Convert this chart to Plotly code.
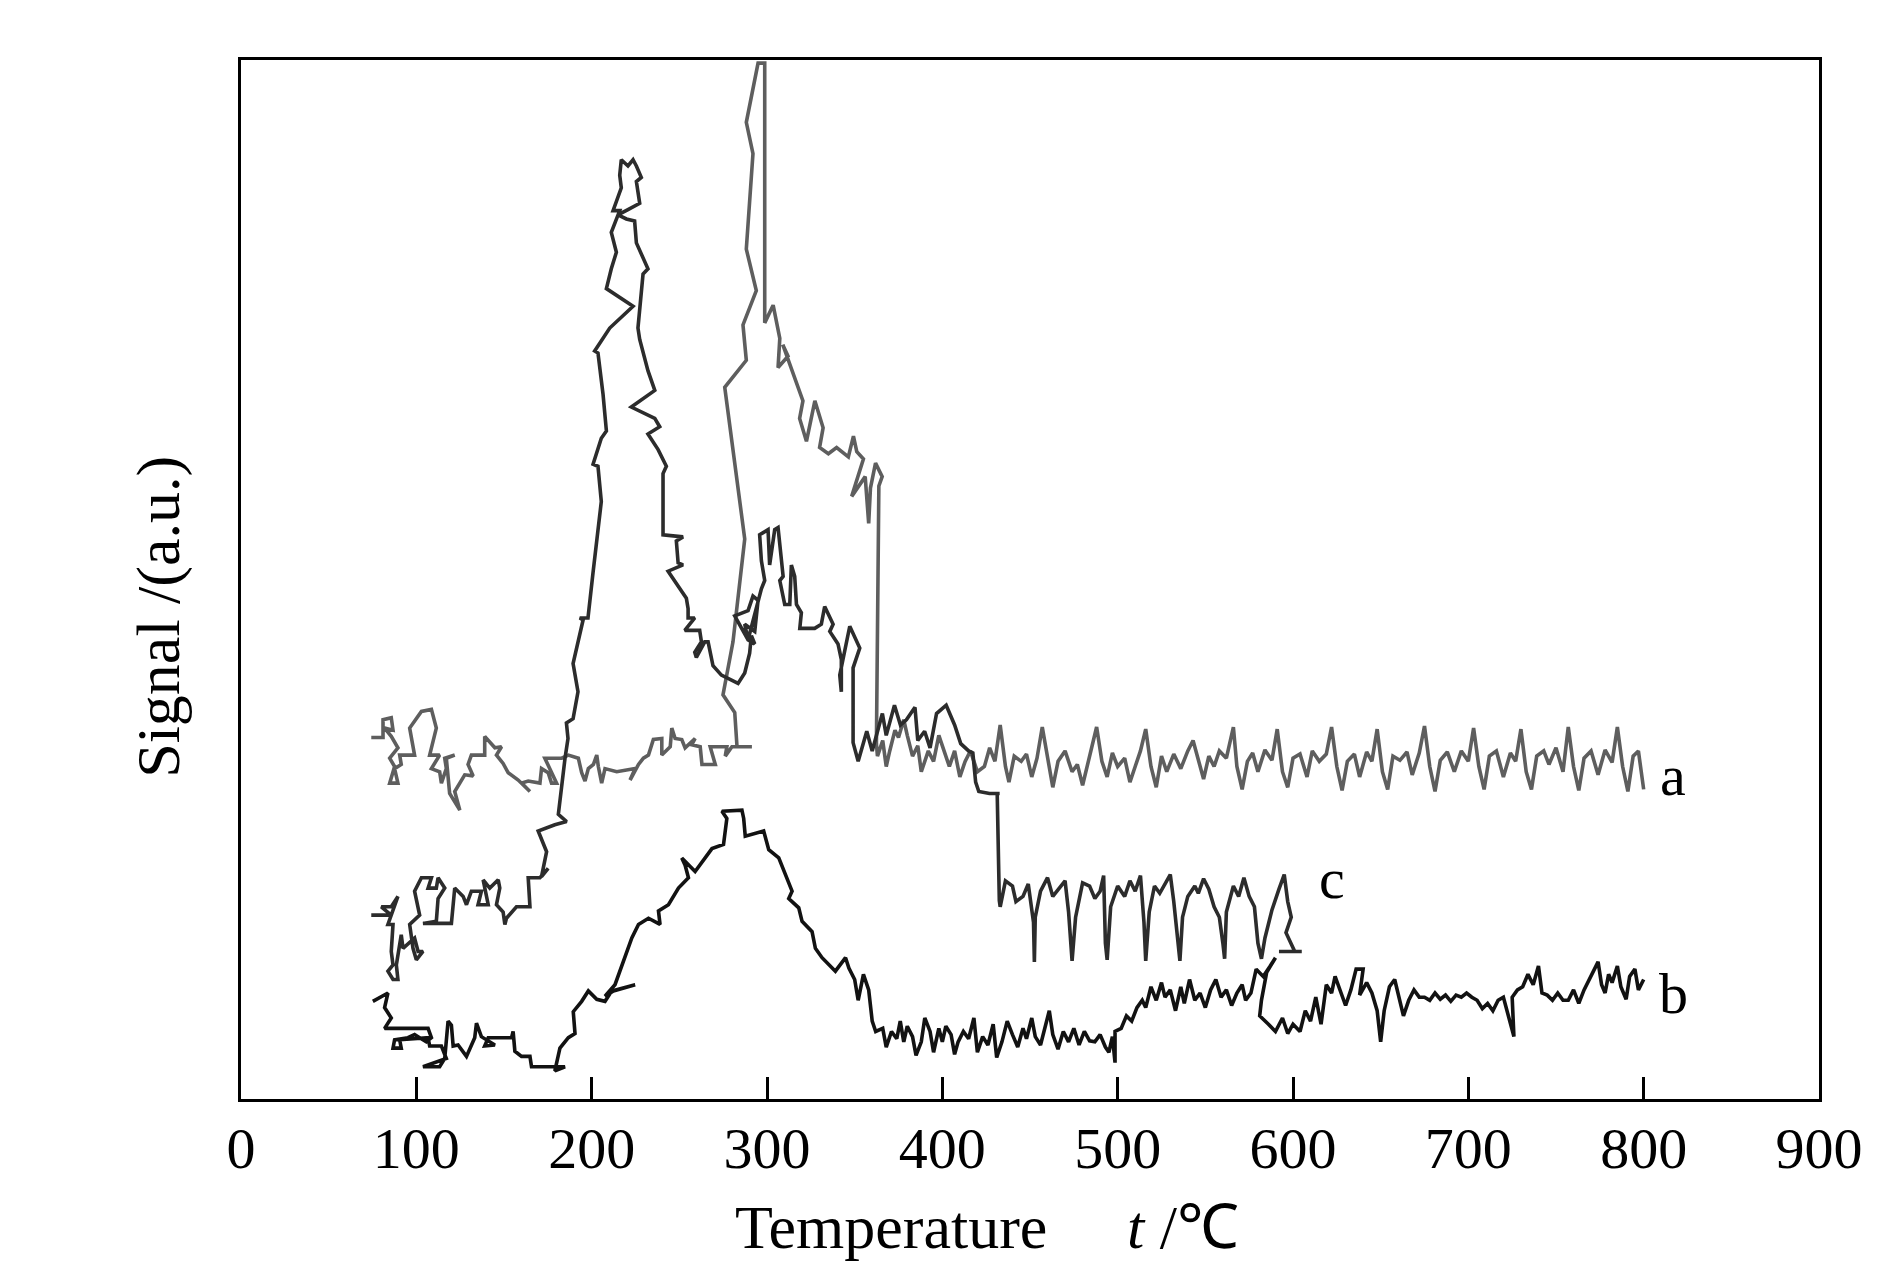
import plotly.graph_objects as go

# ---------------- data (temperature in degC, signal in arbitrary units) -------------
a_temp = [74.3, 81, 81, 85.7, 86.7, 81.9, 85.7, 89.5, 84.8, 87.6, 84.8, 89.5, 87.6, 91.4, 90.5, 99, 96.2, 102.9,
          108.6, 111.4, 107.6, 113.3, 108.6, 113.3, 114.3, 117.1, 116.2, 121.9, 117.1, 119, 124.8, 121.9, 127.6,
          132.4, 129.5, 131.4, 139, 139, 144.8, 148.6, 145.7, 149.5, 152.4, 158.1, 164.8, 160, 163.8, 170.5,
          171.4, 175.2, 177.1, 180, 173.3, 182.9, 186.7, 192.4, 194.3, 196.2, 198.1, 201, 202.9, 203.8, 205.7,
          207.6, 214.3, 224.8, 221.9, 226.7, 229.5, 232.4, 235.2, 240, 240, 244.8, 245.7, 247.6, 251.4, 253.3,
          259, 257.1, 261.9, 262.9, 270.5, 267.6, 277.1, 276.2, 280, 291.4, 282.9, 281.6, 274.9, 280.6, 287.3,
          275.9, 288.2, 286.3, 293.9, 288.2, 292, 288.2, 294.9, 298.7, 298.7, 303.5, 307.3, 306.3, 312, 309,
          317.7, 320.5, 318.6, 322.5, 327.3, 332, 330, 335, 339.7, 346.4, 349.3, 351.2, 355, 348.3, 356, 358,
          359, 361.9, 365.7, 363.8, 362.4,
          363, 366, 368, 370, 373, 375, 378, 380, 383, 386, 388, 392, 395, 398, 400, 404, 407, 410, 413, 416,
          420, 424, 427, 430, 433, 436, 438, 441, 445, 448, 451, 454, 457, 460, 463, 466, 470, 474, 477, 480,
          484, 488, 491, 494, 497, 500, 504, 507, 510, 513, 516, 519, 522, 525, 528, 532, 536, 540, 543, 546,
          549, 552, 555, 558, 562, 566, 568, 571, 574, 577, 580, 584, 588, 591, 594, 597, 600, 604, 608, 611,
          615, 619, 622, 625, 628, 631, 635, 638, 642, 645, 648, 651, 654, 657, 661, 665, 668, 672, 675, 678,
          681, 684, 688, 692, 696, 700, 703, 706, 709, 712, 716, 720, 724, 727, 730, 733, 736, 739, 743, 746,
          750, 754, 757, 760, 763, 766, 770, 774, 778, 782, 785, 788, 791, 794, 797, 800]
a_signal = [34.8, 34.8, 36.5, 36.7, 35.5, 35.7, 34.9, 33.8, 32.8, 32, 30.4, 30.4, 31.8, 32.2, 33.1, 33.1, 35.7,
            37.3, 37.5, 35.7, 33.1, 33.1, 31.8, 31.5, 30.4, 31.8, 32.8, 33.1, 32.8, 29.4, 27.8, 29.6, 31.2, 31.1,
            32.2, 33.1, 33.1, 34.9, 33.8, 33.9, 33.1, 32.3, 31.4, 30.7, 29.6, 30.4, 30.6, 30.4, 31.8, 31.4, 30.4,
            30.4, 32.8, 32.8, 33.1, 32.8, 31.4, 30.6, 31.8, 32.2, 33.1, 32, 30.4, 31.8, 31.5, 31.8, 30.7, 32.2,
            32.8, 33.1, 34.6, 34.7, 33.1, 33.9, 35.7, 34.7, 34.6, 33.8, 34.7, 34.1, 33.9, 32.2, 32.2, 33.9, 33.9,
            33, 33.9, 33.9, 33.9, 37.2, 38.9, 44, 53.9, 68.5, 71.1, 74.5, 77.8, 81.8, 91, 94, 99.7, 99.7, 74.7,
            76.4, 73.2, 70.4, 71.5, 72.6, 68.5, 67.2, 65.5, 63.3, 67.2, 64.6, 62.7, 62.1, 62.7, 61.8, 63.8, 62.3,
            61.6, 58, 59.9, 55.4, 58.8, 61.2, 59.9, 59, 34.2,
            33, 34.5, 32, 33.5, 35.5, 34.8, 36.5, 35, 33, 34, 31.5, 33.5, 32.5, 35, 34, 32, 33.5, 31, 32.5, 33.5,
            31.5, 32, 33.8, 32.5, 36, 32, 30.5, 33, 32.5, 33.2, 31, 32.8, 35.8, 33, 30, 32.5, 33.5, 31.5, 32.2,
            30.2, 33, 35.8, 32.5, 31, 33.3, 32, 32.8, 30.5, 32, 33.5, 35.6, 32, 30, 33, 31.5, 33.2, 31.8, 33.5,
            34.5, 32.5, 30.8, 33, 32, 33.5, 32.8, 35.8, 32, 29.8, 32.5, 33.3, 31.5, 33.6, 32.6, 35.6, 31.5, 30,
            32.8, 33.2, 31, 33.5, 32.5, 33.2, 35.8, 32, 29.7, 32.5, 33.2, 31, 33.4, 32.5, 35.6, 31.5, 29.8, 33,
            32.6, 33.4, 31.2, 33.3, 35.9, 32, 29.6, 32.6, 33.4, 31.5, 33.5, 32.5, 35.7, 32, 29.8, 33, 33.5, 31,
            33.3, 32.5, 35.6, 31.5, 29.8, 33, 33.5, 32.2, 33.8, 31.5, 35.8, 32, 29.7, 32.8, 33.5, 31.2, 33.6, 32.4,
            35.8, 32, 29.6, 33, 33.5, 29.8]

c_temp = [74.3, 85.7, 80, 85.7, 89.5, 85.7, 83.8, 86.7, 85.7, 86.7, 83.8, 86.7, 89.5, 88.6, 90.5, 91.4, 92.4, 99,
          101, 103.8, 100, 98.1, 96.2, 101.9, 99, 102.9, 108.6, 106.7, 111.4, 112.4, 116.2, 112.4, 111.4, 103.8,
          120, 121, 121.9, 126.7, 128.6, 131.4, 137.1, 135.2, 141, 138.1, 141.9, 146.7, 147.6, 145.7, 149.5,
          150.5, 151.4, 157.1, 164.8, 163.8, 170.5, 175.2, 171.4, 174.3, 169.5, 179, 185.7, 181, 182.9, 184.8,
          186.5, 185.6, 189.4, 192.2, 189.4, 192.2, 195.1, 193.2, 197.9, 200.8, 203.6, 205.5, 203.6, 200.8, 205.5,
          208.4, 206.5, 203.6, 201.7, 210.3, 223.6, 208.4, 211.2, 214.1, 211.2, 216, 212.2, 216.9, 216, 216.9,
          220.7, 223.6, 225.5, 228.3, 225.5, 227.4, 220.7, 215, 219.8, 224.5, 225.5, 231.2, 232.1, 229.3, 227.4,
          226.4, 227.4, 232.1, 236, 222.6, 236, 238.8, 232.1, 237.9, 242.6, 240.7, 240.7, 252.1, 248.3, 249.3,
          252.1, 243.6, 254, 255, 255, 258.8, 253.1, 261.6, 262.6, 258.8, 259.7, 264.5, 266.4, 269.2, 274, 278.7,
          283.5, 287.3, 290.1, 291.1, 293, 289.2, 287.3, 293, 294.9, 292, 289.2, 281.6, 289.2, 292, 296.8, 298.7,
          296.8, 295.8, 300.6, 301.5, 304.4, 306.3, 308.2, 309.2, 307.3, 310.1, 313, 313.9, 315.8, 316.8, 319.6,
          318.7, 327.2, 331, 332.9, 337.7, 335.8, 340.5, 342.4, 342.4, 341.5, 347.2, 352.9, 349.1, 349.1, 352,
          356.9, 360, 365.8, 368, 372.7, 376.1, 379.5, 384.4, 386, 389.9, 393, 396.7, 402.2, 407, 410.5, 415,
          417.4, 419, 420.8, 426.9, 432.7, 431.3, 432.5,
          433, 436, 440, 442, 446, 449, 452, 452.5, 453, 456, 460, 463, 466, 470, 472, 474, 476, 480, 484, 487,
          490, 492, 493, 494, 496, 500, 504, 507, 510, 513, 515, 516, 518, 521, 524, 527, 530, 532, 534, 535.5,
          537, 540, 544, 546, 549, 552, 555, 558, 560, 561, 562, 566, 569, 572, 575, 578, 580, 582, 584, 588,
          592, 595, 597, 599, 596, 601, 592, 605]
c_signal = [17.7, 17.7, 18.5, 18.5, 19.5, 17.7, 16.8, 16.8, 14.2, 12.9, 12.3, 11.5, 11.5, 12.9, 14.8, 15.8, 14.5,
            15.5, 14.2, 14.2, 13.4, 14.5, 16.8, 17.7, 20, 21.3, 21.3, 20.3, 20.3, 21.3, 20.3, 19.3, 17.1, 16.9,
            16.9, 19.3, 20.3, 19.5, 18.7, 20, 20, 18.7, 18.7, 21.1, 20.3, 21.1, 20.3, 18.7, 18, 16.8, 17.4, 18.5,
            18.5, 21.3, 21.3, 22.2, 21.4, 23.8, 25.8, 26.4, 26.7, 27.4, 30.3, 32.8, 34.7, 36.2, 36.6, 39.2, 41.9,
            43.8, 46.1, 46.3, 46.3, 50.7, 54.5, 57.5, 60.9, 61.1, 63.6, 64.3, 67.8, 71.8, 72, 74.2, 76.3, 78, 79.9,
            81.5, 83.4, 85.5, 85.5, 87.7, 88.9, 90.4, 89.8, 90.4, 89.8, 88.7, 88.3, 86.2, 85.6, 85.1, 84.7, 84.5,
            82.4, 80.3, 79.9, 79.4, 76.1, 74.2, 73.1, 70.1, 68.2, 66.6, 65.5, 64.7, 64, 62.5, 60.9, 60.2, 54.3,
            54.1, 53.7, 51.6, 51.4, 50.8, 48.2, 47.2, 46.3, 46.3, 45.1, 45.1, 44, 43, 42.5, 44, 44, 41.7, 40.8,
            40.4, 40, 41, 42.9, 44.6, 43.8, 44.2, 45.7, 45, 48, 48.4, 47, 46.5, 44.2, 46, 49.1, 49.9, 51.8, 54.3,
            54.8, 51.4, 54.8, 55, 51.4, 50.3, 49.9, 47.6, 47.6, 51.4, 50.3, 47.6, 46.8, 45.3, 45.3, 45.7, 47.4,
            45.7, 45, 43.8, 42.3, 39.2, 40.8, 45.5, 43.4, 41.5, 34.3, 32.5, 35.4, 33.5, 37.1, 35, 37.9, 36, 36.5,
            37.7, 34.5, 35.4, 33.8, 37.1, 37.9, 36, 34.2, 33.5, 33.3, 30.5, 29.6, 29.4, 29.4, 29.4, 19.1,
            18.5, 21, 20.5, 19, 19.5, 20.7, 17, 13.2, 17.5, 20, 21.3, 19.5, 20.2, 21, 18, 13.3, 17.5, 20.8, 20.5,
            19.3, 20, 21.5, 15, 13.4, 18.5, 20.5, 19.5, 21, 20, 21.5, 17, 13.3, 18, 20.5, 19.8, 20.7, 21.6, 19,
            15.5, 13.3, 17.5, 19.5, 20.5, 19.8, 21.2, 20.2, 18.5, 17.5, 15, 13.5, 18, 20.5, 19.5, 21.3, 19.5, 18.5,
            15, 13.5, 15.5, 18.2, 20.2, 21.6, 19, 17.5, 16, 14.2, 14.2, 14.2]

b_temp = [75.2, 83.8, 81.9, 85.7, 81.9, 106.7, 108.6, 105.7, 101.9, 99, 95.2, 87.6, 86.7, 91.4, 90.5, 106.7, 107.6,
          114.3, 117.1, 103.8, 113.3, 116.2, 118.1, 120, 121, 123.8, 128.6, 133.3, 134.3, 137.1, 144.8, 139, 141,
          154.3, 155.2, 156.2, 160, 164.8, 165.7, 179, 184.8, 179, 181.9, 186.7, 190.5, 189.5, 194.3, 198.1,
          202.9, 207.6, 211.4, 224.8, 212.4, 207.6, 213.3, 222.9, 226.7, 232.4, 239, 238.1, 243.8, 249.5, 255.2,
          253.3, 251.4, 259, 264.8, 268.6, 275.2, 277.1, 274.3, 285.7, 286.7, 287.6, 298.1, 301, 306.7, 310.5,
          314.3, 312.4, 318.1, 320, 325.7, 327.6, 331.4, 339, 344.8, 346.7,
          350, 352, 355, 358, 360, 362, 366, 368, 371, 374, 376, 378, 380, 383, 385, 388, 390, 393, 395, 398,
          400, 402, 405, 407, 409, 412, 415, 418, 420, 423, 426, 429, 431, 434, 437, 440, 443, 446, 448, 451,
          453, 456, 459, 461, 463, 466, 469, 472, 475, 478, 481, 484, 487, 490, 493, 495, 497, 498.5, 498.5,
          502, 505, 508, 511, 514, 516, 519, 522, 525, 527, 530, 533, 536, 538, 541, 544, 547, 550, 553, 556,
          559, 562, 565, 568, 571, 573, 576, 579, 583, 587, 590, 585, 582, 581, 586, 590, 594, 597, 600, 604,
          607, 610, 613, 616, 619, 622, 624, 627, 630, 633, 636, 640, 638, 642, 645, 648, 650, 652, 655, 658,
          661, 663, 666, 669, 672, 675, 678, 681, 684, 687, 690, 693, 696, 699, 702, 705, 708, 711, 714, 717,
          720, 722, 724, 726, 725, 728, 731, 734, 737, 740, 742, 745, 748, 751, 754, 757, 760, 763, 766, 769,
          772, 774, 776, 778, 780, 782, 785, 787, 790, 792, 795, 797, 800]
b_signal = [9.4, 10.2, 8.8, 7.8, 6.8, 6.8, 5.9, 5.5, 5.9, 6.2, 5.9, 5.7, 4.9, 4.9, 5.7, 5.9, 5.1, 5.1, 3.9, 3.1,
            3.1, 3.9, 7.5, 7.1, 5.1, 5.2, 4.1, 5.9, 7.3, 6, 5.2, 5.1, 5.9, 5.9, 6.5, 4.6, 4.1, 4.1, 3.1, 3.1, 3.1,
            2.7, 4.9, 5.9, 6.3, 8.4, 9.4, 10.4, 9.6, 9.4, 10.4, 11, 10.4, 9.9, 11, 15.5, 16.8, 17.4, 16.8, 18.1,
            18.7, 20.3, 21.3, 22.5, 23.2, 21.9, 23.2, 24.1, 24.5, 27, 27.7, 27.8, 27, 25.3, 25.8, 24, 23.2, 21.6,
            20, 19.3, 18.4, 17.1, 16.1, 14.5, 13.6, 12.3, 13.6, 12.6,
            11.5, 9.5, 12, 10.5, 7.5, 6.5, 6.8, 5, 6.5, 5.8, 7.5, 5.5, 7, 6, 4.2, 5.5, 7.8, 6.5, 4.5, 6.8, 5.5, 7,
            6.2, 4.3, 5.5, 6.5, 5.8, 7.8, 4.5, 6, 5.2, 7.2, 4, 5.5, 7.5, 6.2, 5, 6.8, 5.8, 7.8, 6, 5.2, 7, 8.5,
            6.2, 4.8, 6.5, 5.5, 6.8, 5.2, 6.5, 5.6, 5.5, 6.2, 5, 4.5, 6, 3.5, 6.5,
            6.8, 8, 7.5, 8.8, 9.5, 8.8, 10.8, 9.5, 11.2, 9.8, 10.5, 8.5, 10.8, 9.2, 11.5, 9.5, 10.2, 8.8, 10.5,
            11.5, 9.8, 10.5, 9, 10.2, 11, 9.5, 10.2, 12.5, 11.8, 12.8, 13.6, 12.2, 9.5, 8, 7.2, 6.5, 7.8, 6.3,
            7.2, 6.5, 8.5, 7.5, 9.8, 7.2, 11, 10.2, 11.8, 10.5, 9, 10.5, 12.5, 12.5, 10, 11.2, 10.2, 8.5, 5.5, 8.5,
            10.8, 11.5, 9.5, 8, 9.5, 10.5, 9.8, 9.8, 9.5, 10.2, 9.6, 10, 9.4, 10, 9.8, 10.2, 9.8, 9.5, 8.7, 9.2,
            8.5, 9.5, 9.8, 8.5, 7.2, 6, 9.8, 10.5, 10.8, 12, 11, 12.8, 10.2, 10, 9.5, 10.2, 9.5, 9.5, 10.5, 9.2,
            10.5, 11.5, 12.5, 13.2, 11, 10.2, 12, 11.2, 12.8, 10.8, 9.6, 11.8, 12.5, 10.5, 11.5]

series_names = ["a", "c", "b"]
series_colors = ["#5e5e5e", "#2c2c2c", "#121212"]
x_ticks = [0, 100, 200, 300, 400, 500, 600, 700, 800, 900]

SERIF = "Liberation Serif, Times New Roman, serif"

fig = go.Figure()
for name, xs, ys, col in zip(series_names, [a_temp, c_temp, b_temp], [a_signal, c_signal, b_signal],
                             series_colors):
    fig.add_trace(go.Scatter(x=xs, y=ys, mode="lines", name=name,
                             line=dict(color=col, width=3.6), showlegend=False))

# curve labels
label_pos = {"a": (817, 31.1), "b": (817, 10.2), "c": (622, 21.2)}
for name, (lx, ly) in label_pos.items():
    fig.add_annotation(x=lx, y=ly, xref="x", yref="y", text=name, showarrow=False,
                       font=dict(family=SERIF, size=58, color="black"), xanchor="center", yanchor="middle")

# axis titles
fig.add_annotation(x=0.412, y=-0.123, xref="paper", yref="paper", text="Temperature", showarrow=False,
                   font=dict(family=SERIF, size=62, color="black"), xanchor="center", yanchor="middle")
fig.add_annotation(x=0.597, y=-0.123, xref="paper", yref="paper", text="<i>t</i> /℃", showarrow=False,
                   font=dict(family=SERIF, size=62, color="black"), xanchor="center", yanchor="middle")
fig.add_annotation(x=-0.052, y=0.464, xref="paper", yref="paper", text="Signal /(a.u.)", showarrow=False,
                   textangle=-90, font=dict(family=SERIF, size=62, color="black"),
                   xanchor="center", yanchor="middle")

fig.update_layout(
    width=1890, height=1276,
    margin=dict(l=233, r=79, t=52, b=185, pad=0),
    paper_bgcolor="white", plot_bgcolor="white",
    xaxis=dict(range=[0, 900], tickvals=x_ticks, ticktext=[str(v) for v in x_ticks],
               ticks="inside", ticklen=22, tickwidth=3, tickcolor="black",
               showline=True, linewidth=3, linecolor="black", mirror=True,
               showgrid=False, zeroline=False, ticklabelstandoff=-4,
               tickfont=dict(family=SERIF, size=58, color="black")),
    yaxis=dict(range=[0, 100], showticklabels=False, ticks="",
               showline=True, linewidth=3, linecolor="black", mirror=True,
               showgrid=False, zeroline=False),
)

fig.write_html("out.html")
